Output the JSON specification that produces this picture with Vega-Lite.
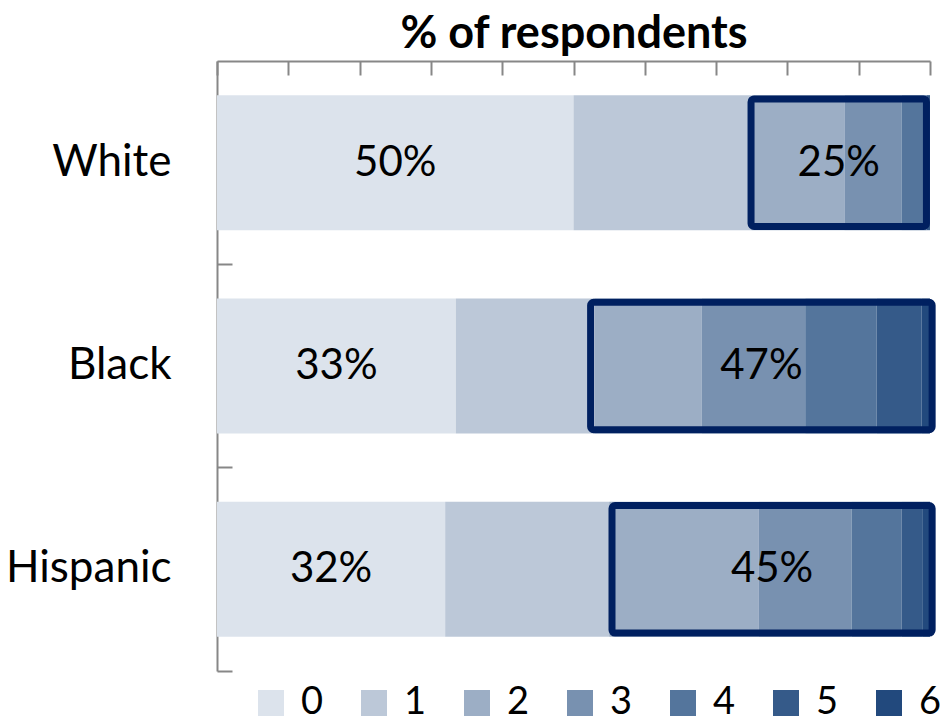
{
  "$schema": "https://vega.github.io/schema/vega-lite/v6.json",
  "width": 713,
  "height": 610,
  "autosize": {"type": "none"},
  "padding": {"left": 217, "top": 61, "right": 16, "bottom": 52},
  "config": {"view": {"stroke": null}, "font": "Lato"},
  "datasets": {
    "seg": [
      {"group": "White", "category": "0", "value": 50},
      {"group": "White", "category": "1", "value": 25},
      {"group": "White", "category": "2", "value": 13},
      {"group": "White", "category": "3", "value": 8},
      {"group": "White", "category": "4", "value": 3.5},
      {"group": "White", "category": "5", "value": 0.5},
      {"group": "White", "category": "6", "value": 0},
      {"group": "Black", "category": "0", "value": 33.5},
      {"group": "Black", "category": "1", "value": 19.5},
      {"group": "Black", "category": "2", "value": 15},
      {"group": "Black", "category": "3", "value": 14.5},
      {"group": "Black", "category": "4", "value": 10},
      {"group": "Black", "category": "5", "value": 6.3},
      {"group": "Black", "category": "6", "value": 1.2},
      {"group": "Hispanic", "category": "0", "value": 32},
      {"group": "Hispanic", "category": "1", "value": 23},
      {"group": "Hispanic", "category": "2", "value": 21},
      {"group": "Hispanic", "category": "3", "value": 13},
      {"group": "Hispanic", "category": "4", "value": 7},
      {"group": "Hispanic", "category": "5", "value": 3},
      {"group": "Hispanic", "category": "6", "value": 1}
    ],
    "spans": [
      {"group": "White", "kind": "zero", "start": 0, "end": 50, "label": "50%"},
      {"group": "Black", "kind": "zero", "start": 0, "end": 33.5, "label": "33%"},
      {"group": "Hispanic", "kind": "zero", "start": 0, "end": 32, "label": "32%"},
      {"group": "White", "kind": "box", "start": 74.9, "end": 99.5, "label": "25%"},
      {"group": "Black", "kind": "box", "start": 52.4, "end": 100.3, "label": "47%"},
      {"group": "Hispanic", "kind": "box", "start": 55.4, "end": 100.3, "label": "45%"}
    ]
  },
  "layer": [
    {
      "data": {"name": "seg"},
      "mark": {"type": "bar", "height": {"band": 0.664}},
      "encoding": {
        "y": {
          "field": "group", "type": "nominal",
          "sort": ["White", "Black", "Hispanic"],
          "scale": {"paddingInner": 0, "paddingOuter": 0},
          "axis": {
            "title": null, "ticks": false, "labelPadding": 46,
            "labelFont": "Lato", "labelFontSize": 44, "labelColor": "#000000",
            "domainColor": "#878787", "domainWidth": 2
          }
        },
        "x": {
          "field": "value", "type": "quantitative", "stack": "zero",
          "scale": {"domain": [0, 100], "nice": false},
          "axis": {
            "orient": "top", "values": [0, 10, 20, 30, 40, 50, 60, 70, 80, 90, 100],
            "labels": false, "grid": false, "tickSize": -14, "tickColor": "#878787", "tickWidth": 2,
            "domainColor": "#878787", "domainWidth": 2,
            "title": "% of respondents", "titleFont": "Lato", "titleFontSize": 45,
            "titleFontWeight": "bold", "titleColor": "#000000", "titlePadding": 4
          }
        },
        "color": {
          "field": "category", "type": "nominal",
          "scale": {
            "domain": ["0", "1", "2", "3", "4", "5", "6"],
            "range": ["#DCE3EC", "#BCC8D8", "#9CAEC5", "#7891B0", "#54759C", "#355A89", "#22497D"]
          },
          "legend": {
            "orient": "none", "legendX": 35, "legendY": 623, "direction": "horizontal",
            "title": null, "symbolType": "square", "symbolSize": 676, "symbolStrokeWidth": 0,
            "labelFont": "Lato", "labelFontSize": 38, "labelColor": "#000000",
            "labelOffset": 11, "columnPadding": 31
          }
        },
        "order": {"field": "category", "type": "ordinal"}
      }
    },
    {
      "data": {"name": "spans"},
      "transform": [{"filter": "datum.kind === 'box'"}],
      "mark": {"type": "bar", "height": {"band": 0.627}, "filled": false, "stroke": "#002060", "strokeWidth": 7, "cornerRadius": 3},
      "encoding": {
        "y": {
          "field": "group", "type": "nominal", "sort": ["White", "Black", "Hispanic"],
          "axis": {
            "orient": "left", "title": null, "labels": false, "domain": false,
            "ticks": true, "tickSize": -15, "bandPosition": 1, "tickColor": "#878787", "tickWidth": 2
          }
        },
        "x": {"field": "start", "type": "quantitative"},
        "x2": {"field": "end"}
      }
    },
    {
      "data": {"name": "spans"},
      "transform": [{"calculate": "(datum.start + datum.end) / 2", "as": "mid"}],
      "mark": {"type": "text", "font": "Lato", "fontSize": 42, "color": "#000000", "baseline": "middle", "align": "center"},
      "encoding": {
        "y": {"field": "group", "type": "nominal", "sort": ["White", "Black", "Hispanic"], "axis": null},
        "x": {"field": "mid", "type": "quantitative"},
        "text": {"field": "label"}
      }
    }
  ],
  "resolve": {"axis": {"y": "independent"}}
}
